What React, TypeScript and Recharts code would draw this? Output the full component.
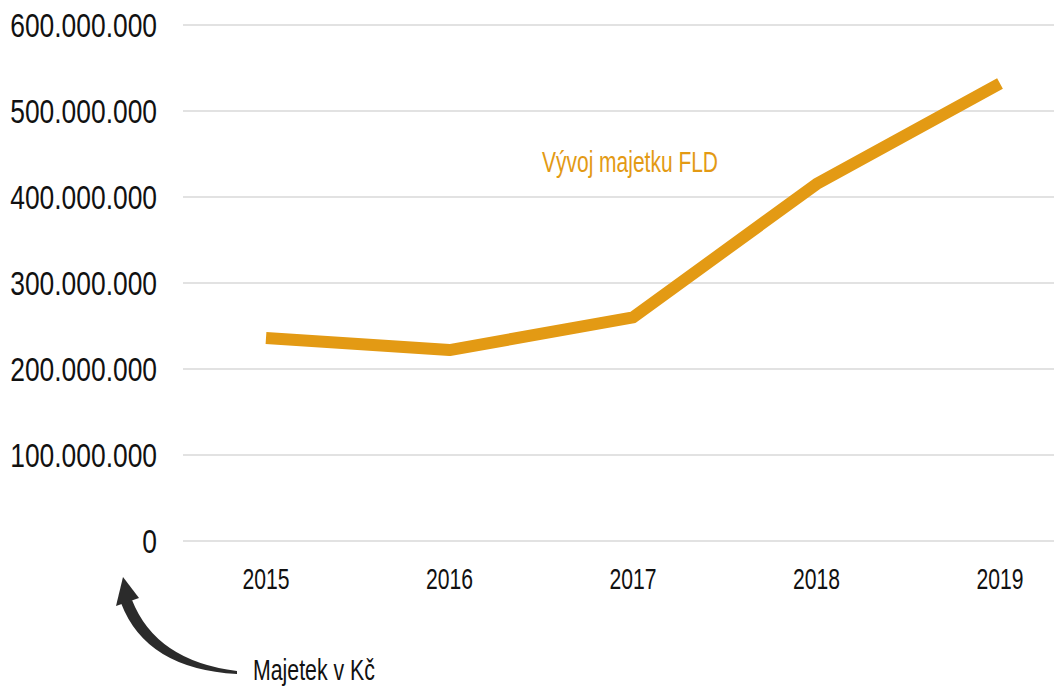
import { LineChart, Line, XAxis, YAxis, CartesianGrid } from 'recharts';

// Vývoj majetku FLD (Kč)
const years = ['2015', '2016', '2017', '2018', '2019'];
const assets = [236000000, 222000000, 260000000, 415000000, 532000000];
const yTicks = [0, 100000000, 200000000, 300000000, 400000000, 500000000, 600000000];

const data = years.map((year, i) => ({ year, value: assets[i] }));

const LINE_COLOR = '#E39A14';
const TEXT_COLOR = '#111';
const FONT = '"Liberation Sans", Arial, sans-serif';
// condensed look, squeezed horizontally
const NARROW_Y = 0.8;
const NARROW_X = 0.73;

const formatKc = (v: number) => String(v).replace(/\B(?=(\d{3})+(?!\d))/g, '.');

function YTick(props: any) {
  const { x, y, payload } = props;
  return (
    <g transform={`translate(${x},${y}) scale(${NARROW_Y},1)`}>
      <text x={0} y={0} dy="0.36em" textAnchor="end" fill={TEXT_COLOR} fontSize={33} fontFamily={FONT}>
        {formatKc(payload.value)}
      </text>
    </g>
  );
}

function XTick(props: any) {
  const { x, y, payload } = props;
  return (
    <g transform={`translate(${x},${y}) scale(${NARROW_X},1)`}>
      <text x={0} y={0} dy="0.71em" textAnchor="middle" fill={TEXT_COLOR} fontSize={29} fontFamily={FONT}>
        {payload.value}
      </text>
    </g>
  );
}

export default function App() {
  return (
    <div style={{ position: 'relative', width: 1054, height: 687, background: '#fff' }}>
      <style>{'body{margin:0}'}</style>
      <LineChart
        width={1054}
        height={687}
        data={data}
        margin={{ top: 25, right: 0, bottom: 86, left: 0 }}
      >
        <CartesianGrid vertical={false} stroke="#d9d9d9" strokeWidth={1.5} />
        <XAxis
          dataKey="year"
          height={60}
          axisLine={false}
          tickLine={false}
          tickSize={0}
          tickMargin={27}
          padding={{ left: 83, right: 54 }}
          tick={<XTick />}
        />
        <YAxis
          width={183}
          domain={[0, 600000000]}
          ticks={yTicks}
          interval={0}
          axisLine={false}
          tickLine={false}
          tickSize={0}
          tickMargin={26}
          tick={<YTick />}
        />
        <Line
          type="linear"
          dataKey="value"
          stroke={LINE_COLOR}
          strokeWidth={12}
          strokeLinejoin="round"
          dot={false}
          activeDot={false}
          isAnimationActive={false}
        />
      </LineChart>
      <svg
        width={1054}
        height={687}
        style={{ position: 'absolute', left: 0, top: 0, pointerEvents: 'none' }}
      >
        <text
          x={542}
          y={172}
          fill={LINE_COLOR}
          fontSize={29}
          fontFamily={FONT}
          textLength={176}
          lengthAdjust="spacingAndGlyphs"
        >
          Vývoj majetku FLD
        </text>
        <path
          d="M237,674 Q146,669 121,603 L132,600 Q156,661 237,671 Z"
          fill="#2b2b2b"
        />
        <path d="M116,606 L123,577 L139,598 Z" fill="#2b2b2b" />
        <text
          x={253}
          y={680}
          fill={TEXT_COLOR}
          fontSize={30}
          fontFamily={FONT}
          textLength={122}
          lengthAdjust="spacingAndGlyphs"
        >
          Majetek v Kč
        </text>
      </svg>
    </div>
  );
}
